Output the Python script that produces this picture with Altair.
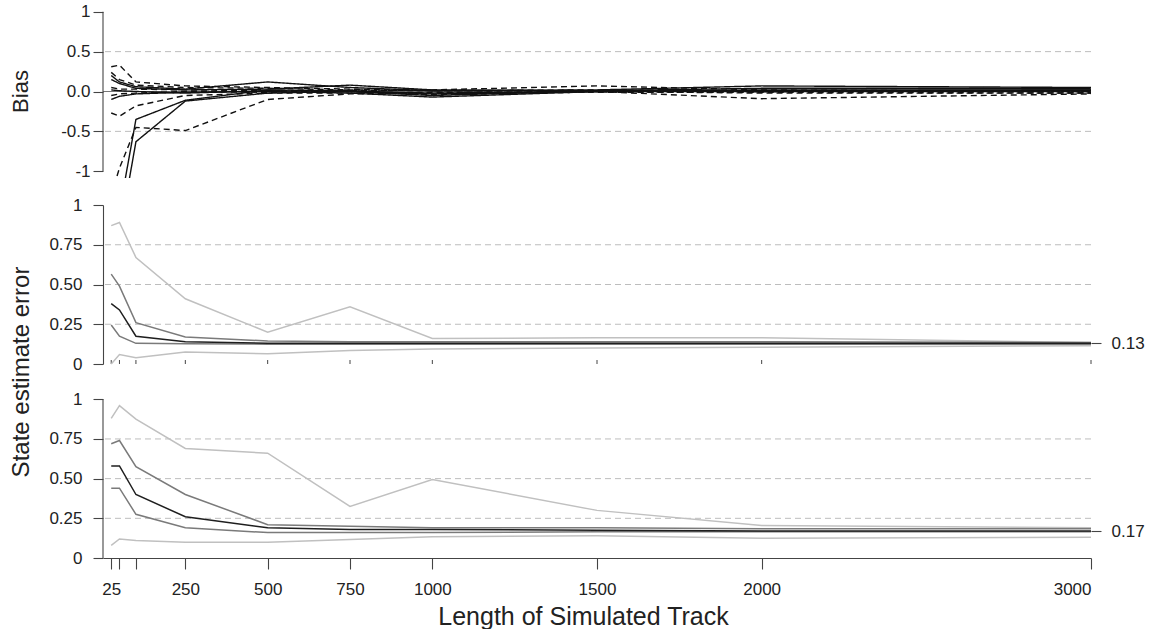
import altair as alt
import pandas as pd

# ---------------- data ----------------
track_len = [25, 50, 100, 250, 500, 750, 1000, 1500, 2000, 3000]

bias_solid = [
    [0.20, 0.12, 0.06, 0.03, 0.12, 0.05, 0.01, 0.02, 0.07, 0.05],
    [0.15, 0.10, 0.04, 0.02, 0.03, 0.08, 0.02, 0.01, 0.04, 0.04],
    [-0.10, -0.06, -0.03, -0.01, 0.00, -0.02, -0.07, 0.00, 0.02, 0.02],
    [0.02, 0.01, 0.00, -0.02, 0.01, 0.00, -0.05, 0.01, 0.00, 0.01],
    [-2.00, -1.50, -0.35, -0.11, 0.02, 0.01, -0.03, 0.00, 0.01, 0.02],
    [-2.30, -1.80, -0.63, -0.12, -0.02, 0.00, -0.02, 0.00, 0.00, 0.01],
]
bias_dashed = [
    [0.31, 0.33, 0.12, 0.07, 0.05, 0.03, 0.01, 0.01, 0.00, 0.00],
    [0.24, 0.15, 0.08, 0.05, 0.04, 0.02, 0.01, 0.02, 0.01, -0.01],
    [0.05, 0.03, 0.03, 0.02, 0.01, 0.01, 0.02, 0.07, 0.02, 0.00],
    [-0.05, -0.03, -0.02, 0.00, -0.01, 0.00, -0.04, 0.00, -0.09, -0.03],
    [-0.27, -0.31, -0.18, -0.05, -0.02, -0.02, -0.01, 0.00, -0.02, -0.02],
    [-1.30, -0.96, -0.45, -0.49, -0.10, -0.03, -0.02, -0.01, -0.01, -0.02],
]

err_names = ["a_min", "b_max", "c_q25", "d_q75", "e_median"]
err_colors = ["#c0c0c0", "#c0c0c0", "#7a7a7a", "#7a7a7a", "#1e1e1e"]

mid_err = {
    "a_min":    [0.00, 0.06, 0.04, 0.075, 0.065, 0.085, 0.095, 0.10, 0.105, 0.115],
    "b_max":    [0.87, 0.89, 0.67, 0.41, 0.20, 0.36, 0.16, 0.165, 0.165, 0.135],
    "c_q25":    [0.245, 0.175, 0.13, 0.127, 0.125, 0.125, 0.125, 0.125, 0.125, 0.125],
    "d_q75":    [0.565, 0.49, 0.26, 0.17, 0.145, 0.14, 0.14, 0.14, 0.14, 0.135],
    "e_median": [0.38, 0.34, 0.175, 0.14, 0.13, 0.13, 0.13, 0.13, 0.13, 0.13],
}
bot_err = {
    "a_min":    [0.08, 0.12, 0.11, 0.10, 0.10, 0.117, 0.134, 0.14, 0.125, 0.13],
    "b_max":    [0.88, 0.96, 0.875, 0.69, 0.66, 0.325, 0.495, 0.30, 0.205, 0.19],
    "c_q25":    [0.44, 0.44, 0.275, 0.19, 0.16, 0.16, 0.16, 0.165, 0.165, 0.165],
    "d_q75":    [0.72, 0.74, 0.575, 0.40, 0.21, 0.20, 0.19, 0.19, 0.185, 0.185],
    "e_median": [0.58, 0.58, 0.40, 0.26, 0.19, 0.18, 0.18, 0.175, 0.17, 0.17],
}

x_ticks = [25, 50, 100, 250, 500, 750, 1000, 1500, 2000, 3000]
bias_ticks = [-1, -0.5, 0, 0.5, 1]
bias_grid = [-0.5, 0.5]
err_ticks = [0, 0.25, 0.5, 0.75, 1]
err_grid = [0.25, 0.5, 0.75]
mid_mark = [0.13]
bot_mark = [0.17]

# ---------------- frames ----------------
rows = []
for i, s in enumerate(bias_solid):
    for x, v in zip(track_len, s):
        rows.append({"n": x, "bias": v, "series": f"s{i}", "kind": "solid"})
for i, s in enumerate(bias_dashed):
    for x, v in zip(track_len, s):
        rows.append({"n": x, "bias": v, "series": f"d{i}", "kind": "dashed"})
bias_df = pd.DataFrame(rows)


def err_frame(d):
    r = []
    for k, vals in d.items():
        for x, v in zip(track_len, vals):
            r.append({"n": x, "err": v, "q": k})
    return pd.DataFrame(r)


mid_df = err_frame(mid_err)
bot_df = err_frame(bot_err)

# ---------------- layout constants ----------------
W = 988
H_TOP = 173
H_MID = 159
H_BOT = 167
FONT = "Liberation Sans"
AX = "#444444"
GRID = "#bdbdbd"
LBL = 17

xs = alt.Scale(domain=[0, 3000], nice=False, zero=False)
ys_top = alt.Scale(domain=[-1.085, 1.085], nice=False, zero=False)
ys_mid = alt.Scale(domain=[0, 1], nice=False, zero=False)
ys_bot = alt.Scale(domain=[0, 1.052], nice=False, zero=False)

err_label_expr = ("datum.value == 0 || datum.value == 1 ? toString(datum.value)"
                  " : format(datum.value, '.2f')")

# ---------------- top panel: Bias ----------------
top_grid = alt.Chart(pd.DataFrame({"g": bias_grid})).mark_rule(
    color=GRID, strokeDash=[6, 4], strokeWidth=1
).encode(
    y=alt.Y("g:Q", scale=ys_top, axis=alt.Axis(
        values=bias_ticks,
        labelExpr="datum.value == 0 ? '0.0' : toString(datum.value)",
        title="Bias", titleFontSize=22, titleX=-71, titleY=86,
        titleAngle=270, titleAlign="center", titleBaseline="bottom",
        labelFontSize=LBL, labelPadding=3, tickSize=10,
        domain=False, grid=False))
)
top_zero = alt.Chart(pd.DataFrame({"z": [0]})).mark_rule(
    color="#777777", strokeWidth=1
).encode(y=alt.Y("z:Q", scale=ys_top, axis=None))
top_axisline = alt.Chart(pd.DataFrame({"lo": [-1], "hi": [1]})).mark_rule(
    color=AX, strokeWidth=1.1
).encode(x=alt.value(0), y=alt.Y("lo:Q", scale=ys_top, axis=None), y2="hi:Q")
top_lines = alt.Chart(bias_df).mark_line(clip=True, strokeWidth=1.4, color="#111111").encode(
    x=alt.X("n:Q", scale=xs, axis=None),
    y=alt.Y("bias:Q", scale=ys_top, axis=None),
    detail="series:N",
    strokeDash=alt.StrokeDash("kind:N", scale=alt.Scale(
        domain=["solid", "dashed"], range=[[1, 0], [6, 4]]), legend=None),
)
top = alt.layer(top_grid, top_zero, top_axisline, top_lines).resolve_axis(
    y="independent").properties(width=W, height=H_TOP)

# ---------------- middle panel ----------------
mid_grid = alt.Chart(pd.DataFrame({"g": err_grid})).mark_rule(
    color=GRID, strokeDash=[6, 4], strokeWidth=1
).encode(
    y=alt.Y("g:Q", scale=ys_mid, axis=alt.Axis(
        values=err_ticks, labelExpr=err_label_expr,
        title="State estimate error", titleFontSize=24, titleX=-70, titleY=166.5,
        titleAngle=270, titleAlign="center", titleBaseline="bottom",
        labelFontSize=LBL, labelPadding=11, tickSize=10,
        domain=True, grid=False))
)
mid_ticks = alt.Chart(pd.DataFrame({"t": x_ticks})).mark_rule(color=AX, strokeWidth=1).encode(
    x=alt.X("t:Q", scale=xs, axis=None), y=alt.value(H_MID), y2=alt.value(H_MID - 4)
)
mid_lines = alt.Chart(mid_df).mark_line(strokeWidth=1.5).encode(
    x=alt.X("n:Q", scale=xs, axis=alt.Axis(labels=False, ticks=False, title=None,
                                           grid=False, domain=True)),
    y=alt.Y("err:Q", scale=ys_mid, axis=alt.Axis(
        orient="right", values=mid_mark, format=".2f", domain=False, grid=False,
        tickSize=10, labelPadding=10, labelFontSize=LBL, title=None)),
    color=alt.Color("q:N", scale=alt.Scale(domain=err_names, range=err_colors), legend=None),
)
mid = alt.layer(mid_grid, mid_ticks, mid_lines).resolve_axis(y="independent").properties(
    width=W, height=H_MID)

# ---------------- bottom panel ----------------
bot_grid = alt.Chart(pd.DataFrame({"g": err_grid})).mark_rule(
    color=GRID, strokeDash=[6, 4], strokeWidth=1
).encode(
    y=alt.Y("g:Q", scale=ys_bot, axis=alt.Axis(
        values=err_ticks, labelExpr=err_label_expr, title=None,
        labelFontSize=LBL, labelPadding=11, tickSize=10,
        domain=False, grid=False))
)
bot_axisline = alt.Chart(pd.DataFrame({"lo": [0], "hi": [1]})).mark_rule(
    color=AX, strokeWidth=1.1
).encode(x=alt.value(0), y=alt.Y("lo:Q", scale=ys_bot, axis=None), y2="hi:Q")
bot_lines = alt.Chart(bot_df).mark_line(strokeWidth=1.5).encode(
    x=alt.X("n:Q", scale=xs, axis=alt.Axis(
        values=x_ticks, format="d",
        labelExpr="datum.value == 50 || datum.value == 100 ? '' : datum.label",
        tickSize=11, labelPadding=12, labelFontSize=LBL, labelOverlap=False,
        title="Length of Simulated Track", titleFontSize=25, titlePadding=7,
        titleX=480, titleAlign="center",
        grid=False, domain=True)),
    y=alt.Y("err:Q", scale=ys_bot, axis=alt.Axis(
        orient="right", values=bot_mark, format=".2f", domain=False, grid=False,
        tickSize=10, labelPadding=10, labelFontSize=LBL, title=None)),
    color=alt.Color("q:N", scale=alt.Scale(domain=err_names, range=err_colors), legend=None),
)
bot = alt.layer(bot_grid, bot_axisline, bot_lines).resolve_axis(y="independent").properties(
    width=W, height=H_BOT)

chart = alt.vconcat(top, mid, bot, spacing=27).properties(
    bounds="flush",
    padding={"left": 9, "top": 2, "right": 4, "bottom": 0},
).configure(font=FONT).configure_view(stroke=None).configure_axis(
    labelFont=FONT, titleFont=FONT, labelColor="#222222", titleColor="#222222",
    titleFontWeight="normal", domainColor=AX, tickColor=AX, domainWidth=1.1, tickWidth=1.1,
)

chart.save("out.html", embed_options={"renderer": "svg", "actions": False})
